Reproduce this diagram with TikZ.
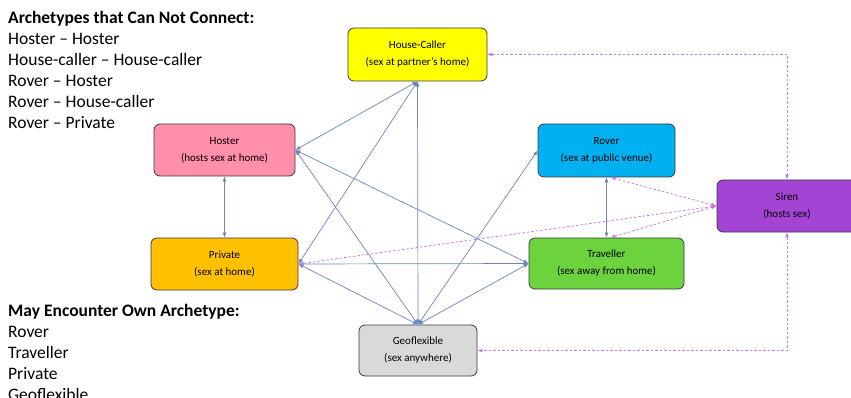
\documentclass[tikz,border=0pt]{standalone}
\usepackage{fontspec}
\setmainfont{Carlito}
\usetikzlibrary{arrows.meta}
\definecolor{hcfill}{HTML}{FFFF00}
\definecolor{hofill}{HTML}{FF8FAB}
\definecolor{prfill}{HTML}{FFC000}
\definecolor{rofill}{HTML}{00B0F0}
\definecolor{trfill}{HTML}{6CD23E}
\definecolor{sifill}{HTML}{A444D4}
\definecolor{gefill}{HTML}{D9D9D9}
\definecolor{bline}{HTML}{6A86BC}
\definecolor{pline}{HTML}{C77CE0}
\definecolor{bord}{HTML}{3A3A3A}
\tikzset{
  arch/.style={draw=bord, line width=0.8pt, rounded corners=6pt, align=center,
    font=\fontsize{11}{17}\selectfont, inner sep=0pt},
  blink/.style={draw=bline, line width=0.7pt, {Latex[length=5pt,width=4pt]}-{Latex[length=5pt,width=4pt]}},
  plink/.style={draw=pline, line width=0.8pt, dash pattern=on 2.5pt off 2pt, {Latex[length=5pt,width=4pt]}-{Latex[length=5pt,width=4pt]}},
  head/.style={anchor=base west, font=\fontsize{17.5}{21}\selectfont\bfseries, inner sep=0pt},
  item/.style={anchor=base west, font=\fontsize{17.5}{21}\selectfont, inner sep=0pt}
}
\begin{document}
\begin{tikzpicture}[x=1pt,y=-1pt]
\useasboundingbox (0,0) rectangle (851,398);
% left texts
\node[head] (h1) at (8,24) {Archetypes that Can Not Connect:};
\node[item] (a1) at (8,45) {Hoster -- Hoster};
\node[item] (a2) at (8,66) {House-caller -- House-caller};
\node[item] (a3) at (8,87) {Rover -- Hoster};
\node[item] (a4) at (8,108) {Rover -- House-caller};
\node[item] (a5) at (8,129) {Rover -- Private};
\node[head] (h2) at (8,316) {May Encounter Own Archetype:};
\node[item] (b1) at (8,337) {Rover};
\node[item] (b2) at (8,358) {Traveller};
\node[item] (b3) at (8,379) {Private};
\node[item] (b4) at (8,400) {Geoflexible};
% nodes
\node[arch, fill=hcfill, minimum width=139pt, minimum height=53pt] (hc) at (417.5,54.5) {House-Caller\\(sex at partner's home)};
\node[arch, fill=hofill, minimum width=141pt, minimum height=52pt] (ho) at (224.5,150) {Hoster\\(hosts sex at home)};
\node[arch, fill=prfill, minimum width=147pt, minimum height=52pt] (pr) at (224.5,264) {Private\\(sex at home)};
\node[arch, fill=rofill, minimum width=137pt, minimum height=53pt] (ro) at (606.5,150.5) {Rover\\(sex at public venue)};
\node[arch, fill=trfill, minimum width=155pt, minimum height=51pt] (tr) at (606.5,263.5) {Traveller\\(sex away from home)};
\node[arch, fill=sifill, minimum width=140pt, minimum height=52pt] (si) at (787,206) {Siren\\(hosts sex)};
\node[arch, fill=gefill, minimum width=118pt, minimum height=51pt] (ge) at (418,350.5) {Geoflexible\\(sex anywhere)};
% blue links
\draw[blink] (hc.south) -- (ho.east);
\draw[blink] (hc.south) -- (pr.east);
\draw[blink] (hc.south) -- (ge.north);
\draw[blink] (ho.south) -- (pr.north);
\draw[blink] (ho.east) -- (tr.west);
\draw[blink] (ho.east) -- (ge.north);
\draw[blink] (pr.east) -- (tr.west);
\draw[blink] (pr.east) -- (ge.north);
\draw[blink] (ro.west) -- (ge.north);
\draw[blink] (tr.west) -- (ge.north);
\draw[blink] (ro.south) -- (tr.north);
% purple links
\draw[plink] (hc.east) -| (si.north);
\draw[plink] (si.west) -- ([xshift=4pt]ro.south);
\draw[plink] (si.west) -- ([xshift=4pt]tr.north);
\draw[plink] (si.west) -- (pr.east);
\draw[plink] (si.south) |- (ge.east);
\end{tikzpicture}
\end{document}
